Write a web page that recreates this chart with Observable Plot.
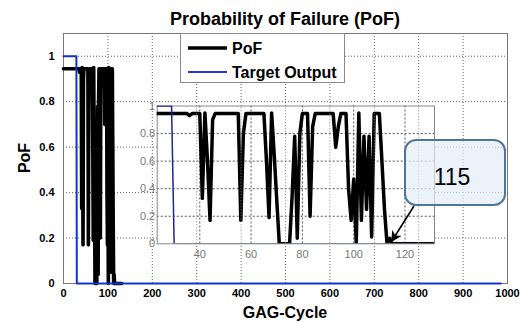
<!DOCTYPE html>
<html><head><meta charset="utf-8">
<script src="https://cdn.jsdelivr.net/npm/d3@7"></script>
<script src="https://cdn.jsdelivr.net/npm/@observablehq/plot@0.6"></script>
<style>
body{margin:0;background:#fff;}
#wrap{position:relative;width:523px;height:323px;overflow:hidden;font-family:"Liberation Sans",Arial,sans-serif;background:#fff;}
#wrap > svg, #wrap > div{position:absolute;}
.lbl{position:absolute;font-weight:bold;color:#000;white-space:nowrap;}
</style></head><body><div id="wrap"></div>
<script>
// ---- data ----
const pofCycle = [0, 35, 36, 37, 40, 41, 42, 43, 44, 45, 46, 55, 56, 57, 58, 65, 66, 67, 68, 69, 70, 71, 75, 76, 77, 78, 79, 80, 82, 83, 84, 85, 92, 93, 94, 95, 97, 98, 99, 100, 101, 102, 103, 104, 105, 106, 107, 108, 110, 111, 112, 113, 114, 115, 131];
const pofValue = [0.945, 0.945, 0.93, 0.945, 0.945, 0.33, 0.95, 0.6, 0.17, 0.9, 0.945, 0.945, 0.17, 0.8, 0.945, 0.945, 0.6, 0.19, 0.95, 0.65, 0.32, 0, 0, 0.35, 0.78, 0.04, 0.8, 0.945, 0.945, 0.2, 0.85, 0.945, 0.945, 0.7, 0.85, 0.945, 0.945, 0.4, 0.17, 0.47, 0, 0.95, 0.17, 0.78, 0.25, 0.78, 0.05, 0.945, 0.945, 0.6, 0.25, 0, 0.04, 0, 0];
const targetCycle = [0, 29, 30, 985];
const targetValue = [1, 1, 0, 0];
const seriesNames = ["PoF", "Target Output"];
const xTicks = [0, 100, 200, 300, 400, 500, 600, 700, 800, 900, 1000];
const yTicks = [0, 0.2, 0.4, 0.6, 0.8, 1];
const insetXTicks = [40, 60, 80, 100, 120];
const insetYTicks = [0, 0.2, 0.4, 0.6, 0.8, 1];
const calloutCycle = 115;
const calloutValue = 0;
const calloutLabel = "115";
const titleText = "Probability of Failure (PoF)";
const xLabel = "GAG-Cycle";
const yLabel = "PoF";

const font = '"Liberation Sans", Arial, sans-serif';
const pof = pofCycle.map((c, i) => ({cycle: c, value: pofValue[i]}));
const target = targetCycle.map((c, i) => ({cycle: c, value: targetValue[i]}));
const wrap = document.getElementById("wrap");
const fmt = d => String(d);

// ---- main chart ----
const W = 523, H = 323, ML = 63, MR = 16, MT = 33, MB = 40;
const main = Plot.plot({
  width: W, height: H, marginLeft: ML, marginRight: MR, marginTop: MT, marginBottom: MB,
  style: {fontFamily: font, background: "transparent", overflow: "visible"},
  x: {domain: [0, 1000]},
  y: {domain: [0, 1.1]},
  marks: [
    Plot.gridX(xTicks.slice(1, -1), {stroke: "#666", strokeOpacity: 1, strokeDasharray: "1,2"}),
    Plot.gridY(yTicks.slice(1), {stroke: "#666", strokeOpacity: 1, strokeDasharray: "1,2"}),
    Plot.frame({stroke: "#777"}),
    Plot.axisX(xTicks, {tickSize: 0, tickPadding: 6, fontSize: 11, fontWeight: "bold", fill: "#000", tickFormat: fmt, label: null}),
    Plot.axisY(yTicks, {tickSize: 0, tickPadding: 9, fontSize: 11, fontWeight: "bold", fill: "#000", tickFormat: fmt, label: null}),
    Plot.line(pof, {x: "cycle", y: "value", stroke: "#000", strokeWidth: 3.6}),
    Plot.line(target, {x: "cycle", y: "value", stroke: "#1432d2", strokeWidth: 2})
  ]
});
main.style.left = "0px"; main.style.top = "0px";
wrap.appendChild(main);

// ---- inset ----
const IL = 130, IT = 95, IW = 310, IH = 170, iml = 26.7, imt = 10.5, imr = 6, imb = 21.7;
const inset = Plot.plot({
  width: IW, height: IH, marginLeft: iml, marginTop: imt, marginRight: imr, marginBottom: imb,
  style: {fontFamily: font, background: "transparent", overflow: "visible"},
  x: {domain: [23.4, 131.5]},
  y: {domain: [0, 1]},
  marks: [
    Plot.frame({fill: "#fff", stroke: "none"}),
    Plot.gridX(insetXTicks, {stroke: "#555", strokeOpacity: 1, strokeDasharray: "2,2"}),
    Plot.gridY(insetYTicks.slice(1, -1), {stroke: "#555", strokeOpacity: 1, strokeDasharray: "2,2"}),
    Plot.frame({stroke: "#888"}),
    Plot.axisX(insetXTicks, {tickSize: 0, tickPadding: 6, fontSize: 11, fill: "#777", tickFormat: fmt, label: null}),
    Plot.axisY(insetYTicks, {tickSize: 0, tickPadding: 2, fontSize: 11, fill: "#777", tickFormat: fmt, label: null}),
    Plot.line(pof, {x: "cycle", y: "value", stroke: "#000", strokeWidth: 3.5, clip: true}),
    Plot.line(target, {x: "cycle", y: "value", stroke: "#1c2496", strokeWidth: 1.5, clip: true})
  ]
});
inset.style.left = IL + "px"; inset.style.top = IT + "px";
wrap.appendChild(inset);

// main vertical grid lines show through the inset
const mx = main.scale("x"), my = main.scale("y");
const ix = inset.scale("x"), iy = inset.scale("y");
const inL = IL + iml, inR = IL + IW - imr, inT = IT + imt, inB = IT + IH - imb;
const through = xTicks.filter(t => mx.apply(t) > inL && mx.apply(t) < inR);
const over = Plot.plot({
  width: W, height: H, marginLeft: ML, marginRight: MR, marginTop: MT, marginBottom: MB,
  style: {background: "transparent", overflow: "visible"},
  x: {domain: [0, 1000], axis: null},
  y: {domain: [0, 1.1], axis: null},
  marks: [
    Plot.ruleX(through, {y1: my.invert(inB), y2: my.invert(inT), stroke: "#888", strokeDasharray: "1,2"})
  ]
});
over.style.left = "0px"; over.style.top = "0px"; over.style.pointerEvents = "none";
wrap.appendChild(over);

// ---- callout ----
const tipX = IL + ix.apply(calloutCycle), tipY = IT + iy.apply(calloutValue) - 2;
const ns = "http://www.w3.org/2000/svg";
const call = document.createElementNS(ns, "svg");
call.setAttribute("width", W); call.setAttribute("height", H);
call.style.left = "0px"; call.style.top = "0px";
call.innerHTML = `
<defs><marker id="ah" viewBox="0 0 10 10" refX="9" refY="5" markerWidth="7" markerHeight="7" orient="auto-start-reverse">
<path d="M0,0 L10,5 L0,10 L3,5 Z" fill="#000"/></marker></defs>
<rect x="405" y="140" width="100" height="65" rx="11" ry="11" fill="#e4ecf6" fill-opacity="0.7" stroke="#4f7599" stroke-width="2"/>
<text x="452" y="185" text-anchor="middle" font-family='${font}' font-size="23" fill="#000">${calloutLabel}</text>
<line x1="414" y1="206" x2="${tipX}" y2="${tipY}" stroke="#000" stroke-width="1.6" marker-end="url(#ah)"/>`;
wrap.appendChild(call);

// ---- legend ----
const leg = document.createElement("div");
leg.style.cssText = "left:180px;top:33px;width:165px;height:50px;box-sizing:border-box;border:1px solid #888;background:#fff;";
leg.innerHTML = `<svg width="163" height="48" style="position:absolute;left:0;top:0">
<line x1="7" y1="14" x2="46" y2="14" stroke="#000" stroke-width="3.5"/>
<text x="51" y="19.5" font-family='${font}' font-size="16" font-weight="bold">${seriesNames[0]}</text>
<line x1="7" y1="38" x2="46" y2="38" stroke="#2a3acc" stroke-width="2"/>
<text x="51" y="43.5" font-family='${font}' font-size="16" font-weight="bold">${seriesNames[1]}</text>
</svg>`;
wrap.appendChild(leg);

// ---- title and axis labels ----
function label(text, css) {
  const d = document.createElement("div");
  d.className = "lbl"; d.textContent = text; d.style.cssText += css;
  wrap.appendChild(d);
}
label(titleText, `left:${ML}px;width:${W - ML - MR}px;text-align:center;top:9px;font-size:18px;line-height:20px;`);
label(xLabel, `left:${ML}px;width:${W - ML - MR}px;text-align:center;top:304px;font-size:16px;line-height:18px;`);
label(yLabel, `left:25px;top:158px;font-size:16px;line-height:18px;transform:translate(-50%,-50%) rotate(-90deg);`);
</script></body></html>
